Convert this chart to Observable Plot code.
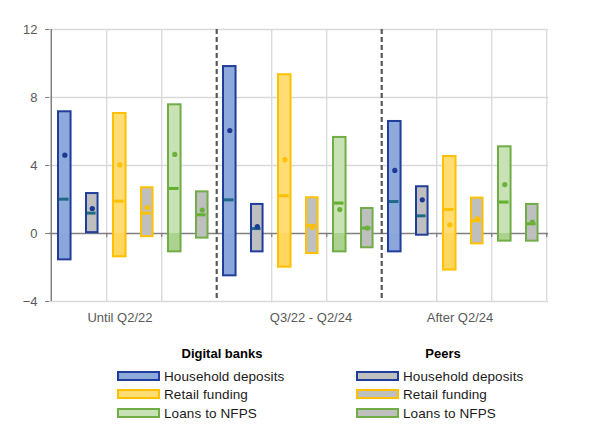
<!DOCTYPE html>
<html>
<head>
<meta charset="utf-8">
<script src="https://cdn.jsdelivr.net/npm/d3@7"></script>
<script src="https://cdn.jsdelivr.net/npm/@observablehq/plot@0.6"></script>
<style>
  body { margin: 0; background: #fff; font-family: "Liberation Sans", Arial, sans-serif; }
  #wrap { position: relative; width: 597px; height: 435px; }
  #chart svg { display: block; }
  .lt { position: absolute; font-weight: bold; font-size: 13px; color: #000; transform: translate(-50%, -50%); white-space: nowrap; }
  .sw { position: absolute; width: 39px; height: 6px; border: 2px solid; transform: translateY(-50%); }
  .tx { position: absolute; font-size: 13.5px; letter-spacing: 0.1px; color: #1a1a1a; transform: translateY(-50%); white-space: nowrap; }
</style>
</head>
<body>
<div id="wrap">
  <div id="chart"></div>
  <div id="legend"></div>
</div>
<script>
// ---- data ----
const periods = ["Until Q2/22", "Q3/22 - Q2/24", "After Q2/24"];
const variables = ["Household deposits", "Retail funding", "Loans to NFPS"];
const groups = ["Digital banks", "Peers"];
// order: period × variable (HH, Retail, Loans)
const digitalMax    = [7.16, 7.06, 7.57, 9.82, 9.34, 5.65, 6.59, 4.53, 5.10];
const digitalMin    = [-1.55, -1.37, -1.08, -2.49, -1.98, -1.08, -1.08, -2.15, -0.45];
const digitalMedian = [2.02, 1.90, 2.65, 1.98, 2.22, 1.79, 1.88, 1.41, 1.85];
const digitalMean   = [4.61, 4.04, 4.65, 6.06, 4.34, 1.41, 3.71, 0.51, 2.88];
const peersMax      = [2.35, 2.69, 2.45, 1.71, 2.10, 1.47, 2.75, 2.08, 1.71];
const peersMin      = [0.05, -0.19, -0.27, -1.08, -1.18, -0.84, -0.10, -0.61, -0.45];
const peersMedian   = [1.20, 1.20, 1.10, 0.29, 0.48, 0.32, 1.04, 0.75, 0.57];
const peersMean     = [1.47, 1.53, 1.38, 0.40, 0.36, 0.32, 1.98, 0.88, 0.67];
const yTicks = [-4, 0, 4, 8, 12];

// ---- styles ----
const strokeCol = ["#1f3e9c", "#ffc000", "#70ad47"];
const fillPos   = ["#8eaadb", "#ffdc74", "#c8e2b6"];
const fillNeg   = ["#8aa6da", "#ffd65e", "#acd290"];
const medCol    = ["#1f6b86", "#ffc000", "#62b02c"];
const dotCol    = ["#1a3a96", "#ffc000", "#6cb13a"];
const peerFill  = "#bfbfbf";

const rows = digitalMax.map((_, i) => ({
  key: periods[Math.floor(i / 3)] + "|" + variables[i % 3],
  v: i % 3,
  dmax: digitalMax[i], dmin: digitalMin[i], dmed: digitalMedian[i], dmean: digitalMean[i],
  pmax: peersMax[i], pmin: peersMin[i], pmed: peersMedian[i], pmean: peersMean[i]
}));
const keys = rows.map(d => d.key);

const W = 597, H = 330, mL = 49, mR = 49, mT = 29, mB = 29;
const bw = (W - mL - mR) / keys.length;
const lightB = keys.filter((k, i) => i % 3 !== 2 || i === keys.length - 1);
const dashB = keys.filter((k, i) => i % 3 === 2 && i !== keys.length - 1);

const dIn = {insetLeft: 7, insetRight: bw - 20};
const pIn = {insetLeft: 35, insetRight: bw - 47};
const labelDx = [-14, 12, -4];

const chart = Plot.plot({
  width: W, height: H,
  marginLeft: mL, marginRight: mR, marginTop: mT, marginBottom: mB,
  style: {fontFamily: "'Liberation Sans', Arial, sans-serif", fontSize: "13px", background: "#fff"},
  x: {type: "band", domain: keys, padding: 0, axis: null},
  y: {domain: [-4, 12], axis: null},
  marks: [
    Plot.ruleY(yTicks.filter(t => t !== 0), {stroke: "#d9d9d9", strokeWidth: 1.3}),
    Plot.ruleX(lightB, {x: d => d, dx: bw / 2, stroke: "#d9d9d9", strokeWidth: 1.3}),
    Plot.ruleY([0], {stroke: "#808080", strokeWidth: 1.5}),
    Plot.ruleX(lightB, {x: d => d, dx: bw / 2, y1: () => 0, y2: () => 0, insetTop: 0, insetBottom: -4, stroke: "#808080", strokeWidth: 1.3}),
    Plot.ruleX([keys[0]], {x: d => d, dx: -bw / 2, stroke: "#808080", strokeWidth: 1.5}),
    Plot.axisY({ticks: yTicks, tickSize: 4, tickPadding: 8, stroke: "#808080", fill: "#595959", fontSize: 13, label: null}),
    // digital bars
    Plot.barY(rows, {x: "key", y1: () => 0, y2: "dmax", fill: d => fillPos[d.v], ...dIn}),
    Plot.barY(rows, {x: "key", y1: "dmin", y2: () => 0, fill: d => fillNeg[d.v], ...dIn}),
    Plot.barY(rows, {x: "key", y1: "dmin", y2: "dmax", fill: "none", stroke: d => strokeCol[d.v], strokeWidth: 2, ...dIn}),
    // peers bars
    Plot.barY(rows, {x: "key", y1: "pmin", y2: "pmax", fill: peerFill, stroke: d => strokeCol[d.v], strokeWidth: 2, ...pIn}),
    // medians
    Plot.tickY(rows, {x: "key", y: "dmed", stroke: d => medCol[d.v], strokeWidth: 3, insetLeft: 8, insetRight: bw - 18}),
    Plot.tickY(rows, {x: "key", y: "pmed", stroke: d => medCol[d.v], strokeWidth: 3, insetLeft: 36, insetRight: bw - 45}),
    // means
    Plot.dot(rows, {x: "key", y: "dmean", r: 2.6, fill: d => dotCol[d.v], stroke: "none", dx: -14.2}),
    Plot.dot(rows, {x: "key", y: "pmean", r: 2.6, fill: d => dotCol[d.v], stroke: "none", dx: 13.3}),
    // dashed separators on top
    Plot.ruleX(dashB, {x: d => d, dx: bw / 2, stroke: "#595959", strokeWidth: 2.2, strokeDasharray: "5,3"}),
    // period labels
    ...periods.map((p, i) => Plot.text([p], {
      x: () => keys[i * 3 + 1], frameAnchor: "bottom", lineAnchor: "middle", dy: 16, dx: labelDx[i],
      fill: "#595959", fontSize: 13
    }))
  ]
});
document.getElementById("chart").appendChild(chart);

// ---- legend (HTML) ----
const leg = document.getElementById("legend");
const rowsY = [376, 394, 412.5];
const cols = [
  {title: groups[0], tx: 222, sx: 117, lx: 164, fill: i => fillPos[i]},
  {title: groups[1], tx: 443, sx: 356, lx: 403, fill: () => peerFill}
];
cols.forEach(c => {
  const t = document.createElement("div");
  t.className = "lt"; t.textContent = c.title;
  t.style.left = c.tx + "px"; t.style.top = "353px";
  leg.appendChild(t);
  variables.forEach((v, i) => {
    const s = document.createElement("div");
    s.className = "sw";
    s.style.left = c.sx + "px"; s.style.top = rowsY[i] + "px";
    s.style.background = c.fill(i); s.style.borderColor = strokeCol[i];
    leg.appendChild(s);
    const l = document.createElement("div");
    l.className = "tx"; l.textContent = v;
    l.style.left = c.lx + "px"; l.style.top = rowsY[i] + "px";
    leg.appendChild(l);
  });
});
</script>
</body>
</html>
